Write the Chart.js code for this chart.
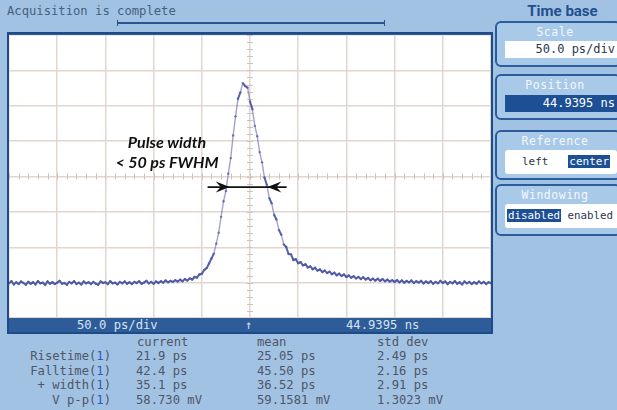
<!DOCTYPE html>
<html>
<head>
<meta charset="utf-8">
<script src="https://cdn.jsdelivr.net/npm/chart.js@4.4.1/dist/chart.umd.min.js"></script>
<style>
  body { margin: 0; background: #a2c2e3; font-family: 'DejaVu Sans Mono', monospace; }
  #wrap { position: relative; width: 617px; height: 410px; overflow: hidden; background: #a2c2e3; }
  .mono { position: absolute; font-family: 'DejaVu Sans Mono', monospace; font-size: 12.2px; white-space: pre; line-height: 14px; }
  #status { position: absolute; left: 7px; top: 32px; width: 486px; height: 302px; border: 2px solid #1d4b88; box-sizing: border-box; background: #2e5c99; }
  #plot { position: absolute; left: 9px; top: 35px; width: 482px; height: 283px; background: #fff; }
  #acqbar { position: absolute; left: 117px; top: 22px; width: 268px; height: 2px; background: #2a5690; }
  #acqbar:before, #acqbar:after { content: ''; position: absolute; top: -2px; width: 1px; height: 6px; background: #2a5690; }
  #acqbar:before { left: 0; } #acqbar:after { right: 0; }
  .panel { position: absolute; left: 495px; width: 126px; height: 46px; border: 2px solid #2b5c9c; border-radius: 6px; background: #a9c9e9; box-sizing: border-box; }
  .plabel { position: absolute; left: 0; right: 6px; top: 2px; text-align: center; color: #f4f8fc; font-family: 'DejaVu Sans Mono', monospace; font-size: 11.5px; letter-spacing: 0.5px; }
  .field { position: absolute; left: 8px; width: 112px; background: #fff; font-family: 'DejaVu Sans Mono', monospace; font-size: 12px; color: #2a3550; white-space: pre; }
  .hl { background: #1d4f95; color: #fff; padding: 0 1px; }
  #annot { position: absolute; left: 97px; top: 132px; width: 140px; text-align: center; font-family: Lato, 'Noto Sans', sans-serif; font-weight: bold; font-style: italic; font-size: 16px; line-height: 20px; color: #111; }
  .blue { color: #2b5cc4; }
</style>
</head>
<body>
<div id="wrap">
  <div class="mono" style="left:7px; top:4px; color:#44607f;">Acquisition is complete</div>
  <div id="acqbar"></div>

  <div id="status"></div>
  <div class="mono" style="left:77px; top:318px; color:#d6e4f2;">50.0 ps/div</div>
  <div class="mono" style="left:245px; top:318px; color:#d6e4f2;">↑</div>
  <div class="mono" style="left:346px; top:318px; color:#d6e4f2;">44.9395 ns</div>

  <div id="plot"><canvas id="scopeChart" width="482" height="283"></canvas></div>
  <div id="annot">Pulse width<br>&lt; 50 ps FWHM</div>

  <div style="position:absolute; left:520px; top:2px; width:85px; text-align:center; font-family:Roboto, sans-serif; font-weight:bold; font-size:15px; color:#1f4f8f;">Time base</div>

  <div class="panel" style="top:21px;">
    <div class="plabel">Scale</div>
    <div class="field" style="top:18px; height:17px; line-height:17px; text-align:right; padding-right:2px; box-sizing:border-box;">50.0 ps/div</div>
  </div>
  <div class="panel" style="top:74px;">
    <div class="plabel">Position</div>
    <div class="field" style="top:19px; height:17px; line-height:17px; text-align:right; padding-right:2px; box-sizing:border-box; background:#1d4f95; color:#fff;">44.9395 ns</div>
  </div>
  <div class="panel" style="top:130px; height:50px;">
    <div class="plabel">Reference</div>
    <div class="field" style="top:18px; height:24px; line-height:24px; padding-left:17px; box-sizing:border-box; border-radius:3px; font-size:11px;">left   <span class="hl">center</span></div>
  </div>
  <div class="panel" style="top:184px; height:52px;">
    <div class="plabel">Windowing</div>
    <div class="field" style="left:8px; width:114px; top:18px; height:24px; line-height:24px; padding-left:2px; box-sizing:border-box; border-radius:3px; font-size:10.8px;"><span class="hl">disabled</span> enabled</div>
  </div>

  <div class="mono" style="left:137px; top:335px; color:#4e5668;">current</div>
  <div class="mono" style="left:257px; top:335px; color:#4e5668;">mean</div>
  <div class="mono" style="left:377px; top:335px; color:#4e5668;">std dev</div>
</div>

<script>
// Registro del osciloscopio: muestras cada 2.5 ps desde -250 ps (referencia al centro)
const T0_PS = -250;
const DT_PS = 2.5;
const voltMv = [
  -30.2, -29.6, -30.5, -29.9, -30.4, -29.7, -30.1, -30.6, -29.8, -30.3,
  -29.9, -30.5, -29.6, -30.2, -30.0, -30.6, -29.7, -30.3, -29.9, -30.4,
  -30.0, -29.5, -30.3, -30.1, -30.6, -29.8, -30.2, -29.6, -30.4, -30.0,
  -30.5, -29.7, -30.2, -29.9, -30.4, -29.8, -30.3, -30.6, -29.7, -30.1,
  -29.9, -30.4, -29.6, -30.2, -30.0, -30.5, -29.8, -30.2, -29.7, -30.3,
  -29.9, -30.4, -29.8, -30.1, -29.6, -30.3, -30.0, -29.5, -30.2, -29.8,
  -30.3, -29.7, -30.1, -29.6, -30.0, -29.4, -29.9, -29.5, -29.8, -29.3,
  -29.7, -29.2, -29.6, -29.0, -29.4, -28.8, -29.1, -28.4, -28.6, -27.7,
  -27.5, -26.4, -25.9, -24.6, -23.2, -21.8, -19.0, -15.9, -11.4, -7.0,
  -4.1, 0.8, 5.2, 11.6, 17.0, 21.9, 23.8, 26.4, 25.6, 25.1,
  21.2, 19.0, 14.3, 11.4, 6.9, 4.0, -0.3, -2.4, -6.1, -7.6,
  -10.8, -12.2, -15.1, -16.5, -19.2, -19.9, -21.9, -22.0, -23.6, -23.4,
  -24.5, -24.2, -25.1, -24.8, -25.7, -25.4, -26.2, -25.8, -26.6, -26.3,
  -27.0, -26.6, -27.3, -26.9, -27.6, -27.2, -27.9, -27.5, -28.1, -27.7,
  -28.4, -28.0, -28.6, -28.2, -28.8, -28.4, -29.0, -28.5, -29.1, -28.7,
  -29.3, -28.9, -29.4, -28.9, -29.5, -29.0, -29.6, -29.2, -29.7, -29.3,
  -29.8, -29.3, -29.9, -29.4, -30.0, -29.5, -29.9, -29.4, -30.1, -29.6,
  -30.0, -29.5, -30.2, -29.7, -30.1, -29.6, -30.3, -29.8, -30.2, -29.5,
  -30.1, -29.7, -30.4, -29.8, -30.2, -29.6, -30.3, -29.9, -30.5, -29.7,
  -30.2, -29.8, -30.4, -29.9, -30.3, -29.7, -30.2, -29.8, -30.4, -29.9,
  -30.1
];

// Tabla de mediciones
const measNames = ['Risetime', 'Falltime', '+ width', 'V p-p'];
const measCurrent = ['21.9 ps', '42.4 ps', '35.1 ps', '58.730 mV'];
const measMean = ['25.05 ps', '45.50 ps', '36.52 ps', '59.1581 mV'];
const measStd = ['2.49 ps', '2.16 ps', '2.91 ps', '1.3023 mV'];

// Flecha de FWHM (en unidades de datos: ps, mV)
const fwhmArrow = { from: -44, to: 38, tipLeft: -21, tipRight: 18, level: -3 };

function buildRows() {
  const wrap = document.getElementById('wrap');
  measNames.forEach((name, i) => {
    const top = 349 + i * 14.5;
    const lbl = document.createElement('div');
    lbl.className = 'mono';
    lbl.style.cssText = `right:${617 - 111}px; top:${top}px; color:#4e5668; text-align:right;`;
    lbl.innerHTML = `${name}(<span class="blue">1</span>)`;
    wrap.appendChild(lbl);
    [[measCurrent, 136], [measMean, 257], [measStd, 377]].forEach(([arr, x]) => {
      const d = document.createElement('div');
      d.className = 'mono';
      d.style.cssText = `left:${x}px; top:${top}px; color:#4e5668;`;
      d.textContent = arr[i];
      wrap.appendChild(d);
    });
  });
}

// Marcas menores sobre los ejes centrales + flecha de anotación
const scopeDecor = {
  id: 'scopeDecor',
  beforeDatasetsDraw(chart) {
    const { ctx, scales: { x, y } } = chart;
    const cx = x.getPixelForValue(0);
    const cy = y.getPixelForValue(0);
    ctx.save();
    ctx.strokeStyle = '#cfc2bc';
    ctx.lineWidth = 1;
    ctx.beginPath();
    for (let t = -250; t <= 250; t += 10) {
      const px = Math.round(x.getPixelForValue(t)) + 0.5;
      ctx.moveTo(px, cy - 3); ctx.lineTo(px, cy + 3);
    }
    for (let v = -40; v <= 40; v += 2) {
      const py = Math.round(y.getPixelForValue(v)) + 0.5;
      ctx.moveTo(cx - 3, py); ctx.lineTo(cx + 3, py);
    }
    ctx.stroke();
    ctx.restore();
  },
  afterDatasetsDraw(chart) {
    const { ctx, scales: { x, y } } = chart;
    const py = y.getPixelForValue(fwhmArrow.level);
    const x0 = x.getPixelForValue(fwhmArrow.from);
    const x1 = x.getPixelForValue(fwhmArrow.to);
    const tl = x.getPixelForValue(fwhmArrow.tipLeft);
    const tr = x.getPixelForValue(fwhmArrow.tipRight);
    ctx.save();
    ctx.strokeStyle = '#111';
    ctx.fillStyle = '#111';
    ctx.lineWidth = 1.6;
    ctx.beginPath();
    ctx.moveTo(x0, py); ctx.lineTo(x1, py);
    ctx.stroke();
    const head = (tip, dir) => {
      ctx.beginPath();
      ctx.moveTo(tip, py);
      ctx.lineTo(tip - dir * 14, py - 5.5);
      ctx.lineTo(tip - dir * 9, py);
      ctx.lineTo(tip - dir * 14, py + 5.5);
      ctx.closePath();
      ctx.fill();
    };
    head(tl, 1);
    head(tr, -1);
    ctx.restore();
  }
};

function initScope() {
  const ctx = document.getElementById('scopeChart');
  if (!ctx || typeof Chart === 'undefined') return;

  const points = voltMv.map((v, i) => ({ x: T0_PS + i * DT_PS, y: v }));

  new Chart(ctx, {
    type: 'line',
    data: {
      datasets: [{
        label: 'Canal 1',
        data: points,
        borderColor: 'rgba(52, 70, 160, 0.85)',
        borderWidth: 2,
        pointRadius: 1.2,
        pointBackgroundColor: 'rgba(80, 85, 160, 0.75)',
        pointBorderWidth: 0,
        tension: 0,
        segment: {
          // tramos empinados del pulso: trazo más tenue, como puntos dispersos
          borderColor: c => Math.abs(c.p1.parsed.y - c.p0.parsed.y) > 2.5 ? 'rgba(100, 100, 170, 0.6)' : undefined,
          borderWidth: c => Math.abs(c.p1.parsed.y - c.p0.parsed.y) > 2.5 ? 1.4 : undefined
        }
      }]
    },
    options: {
      responsive: false,
      animation: false,
      devicePixelRatio: 1,
      layout: { padding: 0, autoPadding: false },
      plugins: { legend: { display: false }, tooltip: { enabled: false } },
      scales: {
        x: {
          type: 'linear', min: -250, max: 250,
          ticks: { display: false, stepSize: 50 },
          grid: { color: '#e2d6d0', lineWidth: 1.5, drawTicks: false },
          border: { display: false }
        },
        y: {
          min: -40, max: 40,
          ticks: { display: false, stepSize: 10 },
          grid: { color: '#e2d6d0', lineWidth: 1.5, drawTicks: false },
          border: { display: false }
        }
      }
    },
    plugins: [scopeDecor]
  });
}

buildRows();
initScope();
</script>
</body>
</html>
